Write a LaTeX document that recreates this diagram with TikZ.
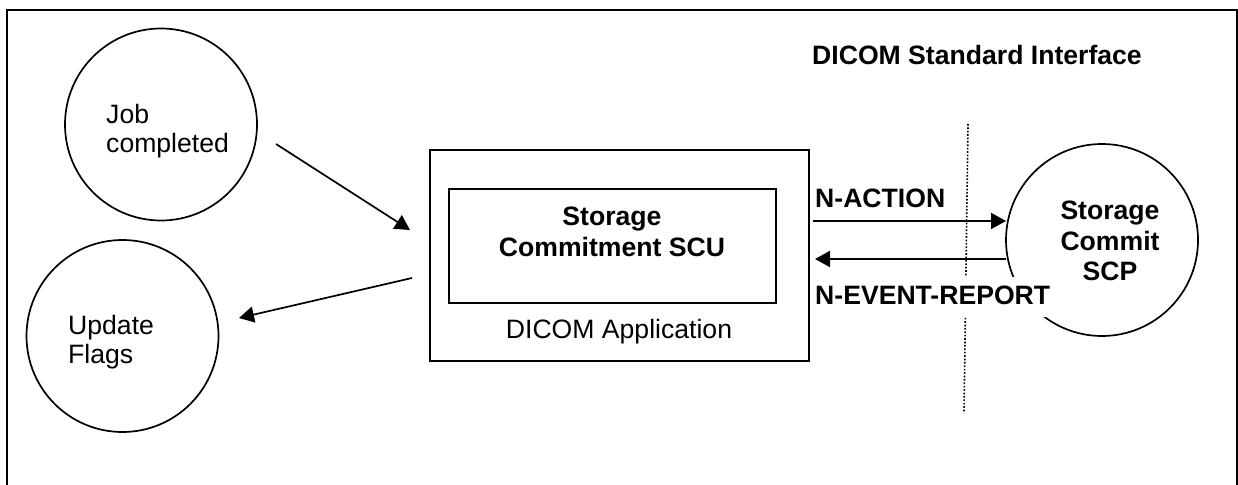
\documentclass[tikz,border=0pt]{standalone}
\usepackage{fontspec}
\setmainfont{Liberation Sans}
\usetikzlibrary{arrows.meta}
\tikzset{
  x=1pt,y=-1pt,
  ln/.style={line width=1.7pt,draw=black},
  circ/.style={circle,ln,minimum size=192pt,inner sep=0pt,fill=white},
  arr/.style={line width=1.7pt,-{Triangle[length=15pt,width=16pt]}},
  lab/.style={font=\fontsize{26.6}{29.5}\selectfont,align=left,anchor=west,inner sep=0pt},
  blab/.style={font=\fontsize{26.6}{30.5}\selectfont\bfseries,align=center,inner sep=0pt},
}
\begin{document}
\begin{tikzpicture}
\useasboundingbox (0,0) rectangle (1238,484);
\begin{scope}
\clip (0,0) rectangle (1238,484);
\draw[ln] (7,10) rectangle (1237,490);
\end{scope}
\node[circ] (job) at (161,124.5) {};
\node[circ] (upd) at (122.5,336) {};
\node[circ] (scp) at (1102,240) {};
\draw[ln] (430,150) rectangle (809,361);
\draw[ln] (449,189) rectangle (776,303);
\node[blab] (scu) at (612,232) {Storage\\Commitment SCU};
\node[lab,anchor=center] (app) at (619,332) {DICOM Application};
\node[lab] (jobt) at (106,131) {Job\\completed};
\node[lab] (updt) at (68,342) {Update\\Flags};
\node[blab,anchor=west] (title) at (812,55) {DICOM Standard Interface};
\node[blab] (scpt) at (1110,241) {Storage\\Commit\\SCP};
\coordinate (a1) at (276,144);
\coordinate (a2) at (410,230);
\coordinate (b1) at (412,278);
\coordinate (b2) at (239,318);
\coordinate (c1) at (813,221);
\coordinate (c2) at (1006,221);
\coordinate (d1) at (1006,259);
\coordinate (d2) at (815,259);
\coordinate (v1) at (968,124);
\coordinate (v2) at (964,413);
\draw[line width=1.6pt,dash pattern=on 1.7pt off 1.7pt] (v1) -- (v2);
\fill[white] (813,277) rectangle (1052,317);
\draw[arr] (a1) -- (a2);
\draw[arr] (b1) -- (b2);
\draw[arr] (c1) -- (c2);
\draw[arr] (d1) -- (d2);
\node[blab,anchor=west] (act) at (815,198) {N-ACTION};
\node[blab,anchor=west] (evt) at (815,295) {N-EVENT-REPORT};
\end{tikzpicture}
\end{document}
